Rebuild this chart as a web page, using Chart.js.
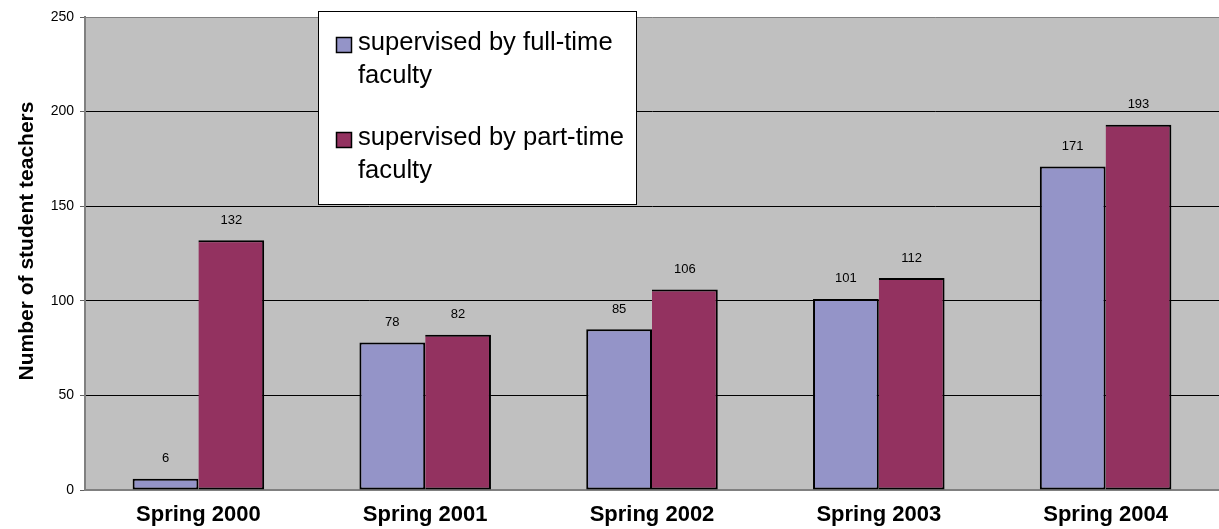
<!DOCTYPE html>
<html>
<head>
<meta charset="utf-8">
<script src="https://cdn.jsdelivr.net/npm/chart.js@4.4.1/dist/chart.umd.min.js"></script>
<style>
  html, body { margin: 0; padding: 0; background: #fff; }
  #wrap { width: 1219px; height: 529px; }
</style>
</head>
<body>
<div id="wrap"><canvas id="chart" width="1219" height="529"></canvas></div>
<script>
const categories = ["Spring 2000", "Spring 2001", "Spring 2002", "Spring 2003", "Spring 2004"]
const fullTime = [6, 78, 85, 101, 171]
const partTime = [132, 82, 106, 112, 193]
const legendLines = [
  ["supervised by full-time", "faculty"],
  ["supervised by part-time", "faculty"]
]
const yTitle = "Number of student teachers"

const FONT = "'Liberation Sans', Arial, sans-serif"
const colors = ["#9494c8", "#933260"]

// gray plot background
const plotBg = {
  id: "plotBg",
  beforeDraw(chart) {
    const { ctx, chartArea: a } = chart
    ctx.save()
    ctx.fillStyle = "#c0c0c0"
    ctx.fillRect(a.left, a.top, a.right - a.left, a.bottom - a.top)
    ctx.restore()
  }
}

// value labels above bars
const barLabels = {
  id: "barLabels",
  afterDatasetsDraw(chart) {
    const { ctx } = chart
    ctx.save()
    ctx.font = "13px " + FONT
    ctx.fillStyle = "#000"
    ctx.textAlign = "center"
    ctx.textBaseline = "middle"
    chart.data.datasets.forEach((ds, i) => {
      chart.getDatasetMeta(i).data.forEach((bar, j) => {
        ctx.fillText(ds.data[j], bar.x, bar.y - 20)
      })
    })
    ctx.restore()
  }
}

// y title and boxed legend, Excel style
const extras = {
  id: "extras",
  afterDraw(chart) {
    const { ctx } = chart
    ctx.save()
    ctx.font = "bold 21px " + FONT
    ctx.fillStyle = "#000"
    ctx.translate(33, 241)
    ctx.rotate(-Math.PI / 2)
    ctx.textAlign = "center"
    ctx.textBaseline = "alphabetic"
    ctx.fillText(yTitle, 0, 0)
    ctx.restore()

    ctx.save()
    ctx.fillStyle = "#fff"
    ctx.fillRect(318, 11, 318, 193)
    ctx.strokeStyle = "#000"
    ctx.lineWidth = 1
    ctx.strokeRect(318.5, 11.5, 318, 193)
    ctx.font = "25.6px " + FONT
    ctx.textAlign = "left"
    ctx.textBaseline = "alphabetic"
    legendLines.forEach((lines, i) => {
      const top = 37 + i * 95
      ctx.fillStyle = colors[i]
      ctx.fillRect(336, top, 16, 16)
      ctx.strokeStyle = "#000"
      ctx.lineWidth = 1.5
      ctx.strokeRect(336.5, top + 0.5, 15, 15)
      ctx.fillStyle = "#000"
      lines.forEach((t, k) => ctx.fillText(t, 358, top + 12.5 + k * 33.5))
    })
    ctx.restore()
  }
}

new Chart(document.getElementById("chart"), {
  type: "bar",
  data: {
    labels: categories,
    datasets: [
      {
        label: legendLines[0].join(" "),
        data: fullTime,
        backgroundColor: colors[0],
        borderWidth: 2
      },
      {
        label: legendLines[1].join(" "),
        data: partTime,
        backgroundColor: colors[1],
        borderWidth: { left: 0, top: 2, right: 2, bottom: 2 }
      }
    ]
  },
  options: {
    responsive: false,
    animation: false,
    layout: { padding: { top: 17, right: 0, left: 0, bottom: 0 } },
    datasets: {
      bar: {
        categoryPercentage: 0.58,
        barPercentage: 1,
        borderColor: "#000",
        borderSkipped: false
      }
    },
    plugins: {
      legend: { display: false },
      tooltip: { enabled: false }
    },
    scales: {
      x: {
        grid: { display: false, drawTicks: false, tickLength: 0 },
        border: { color: "#808080", width: 2 },
        ticks: {
          color: "#000",
          padding: 12,
          maxRotation: 0,
          font: { family: FONT, size: 22, weight: "bold" }
        },
        afterFit(s) { s.height = 39 }
      },
      y: {
        min: 0,
        max: 250,
        ticks: {
          stepSize: 50,
          color: "#000",
          padding: 6,
          font: { family: FONT, size: 14 }
        },
        grid: {
          color: c => (c.tick && c.tick.value === 250 ? "#808080" : "#000"),
          lineWidth: 1,
          tickLength: 5,
          tickColor: "#606060"
        },
        border: { color: "#808080", width: 2 },
        afterFit(s) { s.width = 85 }
      }
    }
  },
  plugins: [plotBg, barLabels, extras]
})
</script>
</body>
</html>
